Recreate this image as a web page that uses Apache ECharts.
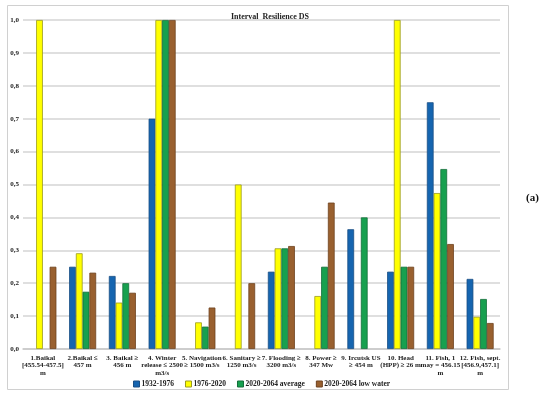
<!DOCTYPE html>
<html><head><meta charset="utf-8">
<script src="https://cdn.jsdelivr.net/npm/echarts@6/dist/echarts.min.js"></script>
<style>html,body{margin:0;padding:0;background:#fff}#c{width:550px;height:399px}</style>
</head><body><div id="c"></div>
<script>
const categories = [
  "1.Baikal\n[455.54-457.5]\nm",
  "2.Baikal ≤\n457 m",
  "3. Baikal ≥\n456 m",
  "4. Winter\nrelease ≤ 2500\nm3/s",
  "5. Navigation\n≥ 1500 m3/s",
  "6. Sanitary ≥\n1250 m3/s",
  "7. Flooding ≥\n3200 m3/s",
  "8. Power ≥\n347 Mw",
  "9. Ircutsk US\n≥ 454 m",
  "10. Head\n(HPP) ≥ 26 m",
  "11. Fish, 1\nmay = 456.15\nm",
  "12. Fish, sept.\n[456.9,457.1]\nm"
];
const seriesNames = ["1932-1976", "1976-2020", "2020-2064 average", "2020-2064 low water"];
const s1932_1976 = [0, 0.25, 0.222, 0.7, 0, 0, 0.235, 0, 0.364, 0.235, 0.75, 0.213];
const s1976_2020 = [1.0, 0.291, 0.141, 1.0, 0.081, 0.5, 0.306, 0.161, 0, 1.0, 0.474, 0.098];
const s2020_2064_avg = [0, 0.174, 0.2, 1.0, 0.068, 0, 0.306, 0.25, 0.4, 0.25, 0.547, 0.152];
const s2020_2064_low = [0.25, 0.232, 0.171, 1.0, 0.126, 0.2, 0.313, 0.445, 0, 0.25, 0.319, 0.079];
const yTicks = ["0,0","0,1","0,2","0,3","0,4","0,5","0,6","0,7","0,8","0,9","1,0"];

const colors = ["#1565b0", "#ffff00", "#17a04f", "#99602f"];
const borders = ["#1a4f85", "#9a9a20", "#146e3a", "#6e4220"];
const dataSets = [s1932_1976, s1976_2020, s2020_2064_avg, s2020_2064_low];
const serif = "'Liberation Serif', 'DejaVu Serif', serif";

const chart = echarts.init(document.getElementById('c'));
chart.setOption({
  animation: false,
  backgroundColor: '#fff',
  title: {
    text: 'Interval  Resilience DS',
    left: 265, top: 8, textAlign: 'center',
    textStyle: { fontFamily: serif, fontSize: 8, fontWeight: 'bold', color: '#222' }
  },
  graphic: [
    { type: 'rect', shape: { x: 7.5, y: 5.5, width: 501, height: 384 },
      style: { fill: 'none', stroke: '#d0d0d0', lineWidth: 1 }, z: -1 },
    { type: 'text', left: 526, top: 193,
      style: { text: '(a)', fontFamily: serif, fontSize: 11, fontWeight: 'bold', fill: '#111' } }
  ],
  legend: {
    top: 375, left: 128,
    itemWidth: 6, itemHeight: 6, itemGap: 11,
    textStyle: { fontFamily: serif, fontSize: 7.5, fontWeight: 'bold', color: '#222', padding: [0,0,0,-3] },
    data: seriesNames.map((n, i) => ({ name: n, icon: 'rect',
      itemStyle: { color: colors[i], borderColor: borders[i], borderWidth: 1 } }))
  },
  grid: { left: 23, right: 50, top: 20, bottom: 50, containLabel: false },
  xAxis: {
    type: 'category', data: categories,
    axisLine: { lineStyle: { color: '#c8c8c8', width: 1.5 } },
    axisTick: { show: false },
    axisLabel: { interval: 0, fontFamily: serif, fontSize: 7, fontWeight: 'bold', color: '#222',
      lineHeight: 7.5, margin: 5 }
  },
  yAxis: {
    type: 'value', min: 0, max: 1, interval: 0.1,
    axisLine: { show: false }, axisTick: { show: false },
    splitLine: { lineStyle: { color: '#d4d4d4', width: 1.5 } },
    axisLabel: { fontFamily: serif, fontSize: 7, fontWeight: 'bold', color: '#222', margin: 4,
      formatter: (v) => yTicks[Math.round(v * 10)] }
  },
  series: dataSets.map((d, i) => ({
    name: seriesNames[i], type: 'bar',
    data: d.map(v => v === 0 ? { value: 0, itemStyle: { borderWidth: 0, opacity: 0 } } : v),
    barGap: '0%', barCategoryGap: '32%',
    itemStyle: { color: colors[i], borderColor: borders[i], borderWidth: 0.8 }
  }))
});
</script></body></html>
